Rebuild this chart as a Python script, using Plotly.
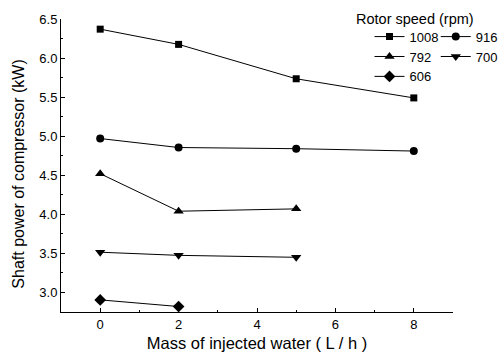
import plotly.graph_objects as go

water = [0, 2, 5, 8]
s1008 = [6.37, 6.175, 5.735, 5.49]
s916 = [4.97, 4.855, 4.84, 4.81]
s792 = [4.52, 4.04, 4.07]
s700 = [3.515, 3.475, 3.45]
s606 = [2.905, 2.82]
names = ["1008", "916", "792", "700", "606"]

series = [
    (water, s1008),
    (water, s916),
    (water[:3], s792),
    (water[:3], s700),
    (water[:2], s606),
]
symbols = ["square", "circle", "triangle-up", "triangle-down", "diamond"]
msizes = [7, 8, 9, 9, 9]
legends = ["legend", "legend2", "legend", "legend2", "legend"]

fig = go.Figure()
for name, (xs, ys), sym, ms, lg in zip(names, series, symbols, msizes, legends):
    fig.add_trace(go.Scatter(
        x=xs, y=ys, name=name, mode="lines+markers",
        line=dict(color="black", width=1),
        marker=dict(symbol=sym, size=ms, color="black"),
        legend=lg,
    ))

font = dict(family="Liberation Sans, Arial, sans-serif", color="black")
fig.update_layout(
    width=502, height=355,
    margin=dict(l=61, r=49, t=19, b=43, autoexpand=False),
    paper_bgcolor="white", plot_bgcolor="white",
    font=dict(size=13, **font),
    showlegend=True,
    legend=dict(
        x=0.787, y=0.991, xanchor="left", yanchor="top",
        bgcolor="rgba(0,0,0,0)", font=dict(size=13),
        tracegroupgap=0, itemwidth=30,
    ),
    legend2=dict(
        x=0.956, y=0.991, xanchor="left", yanchor="top",
        bgcolor="rgba(0,0,0,0)", font=dict(size=13),
        tracegroupgap=0, itemwidth=30,
    ),
    annotations=[
        dict(text="Rotor speed (rpm)", xref="paper", yref="paper",
             x=0.748, y=1.0, xanchor="left", yanchor="middle",
             showarrow=False, font=dict(size=14.5)),
        dict(text="Shaft power of compressor (kW)", xref="paper", yref="paper",
             x=-0.107, y=0.469, xanchor="center", yanchor="middle", textangle=-90,
             showarrow=False, font=dict(size=16)),
    ],
    xaxis=dict(
        range=[-1, 9], tickvals=[0, 2, 4, 6, 8], showgrid=False, zeroline=False,
        showline=True, linecolor="black", linewidth=1,
        ticks="inside", ticklen=4, tickcolor="black",
        minor=dict(ticks="inside", ticklen=2, dtick=1, tick0=0, tickcolor="black"),
        tickfont=dict(size=13),
        title=dict(text="Mass of injected water ( L / h )", font=dict(size=16.5), standoff=6),
    ),
    yaxis=dict(
        range=[2.75, 6.5], tickvals=[3.0, 3.5, 4.0, 4.5, 5.0, 5.5, 6.0, 6.5],
        tickformat=".1f", showgrid=False, zeroline=False,
        showline=True, linecolor="black", linewidth=1,
        ticks="inside", ticklen=4, tickcolor="black",
        minor=dict(ticks="inside", ticklen=2, dtick=0.25, tick0=0, tickcolor="black"),
        tickfont=dict(size=13),
    ),
)
fig.write_html("out.html")
